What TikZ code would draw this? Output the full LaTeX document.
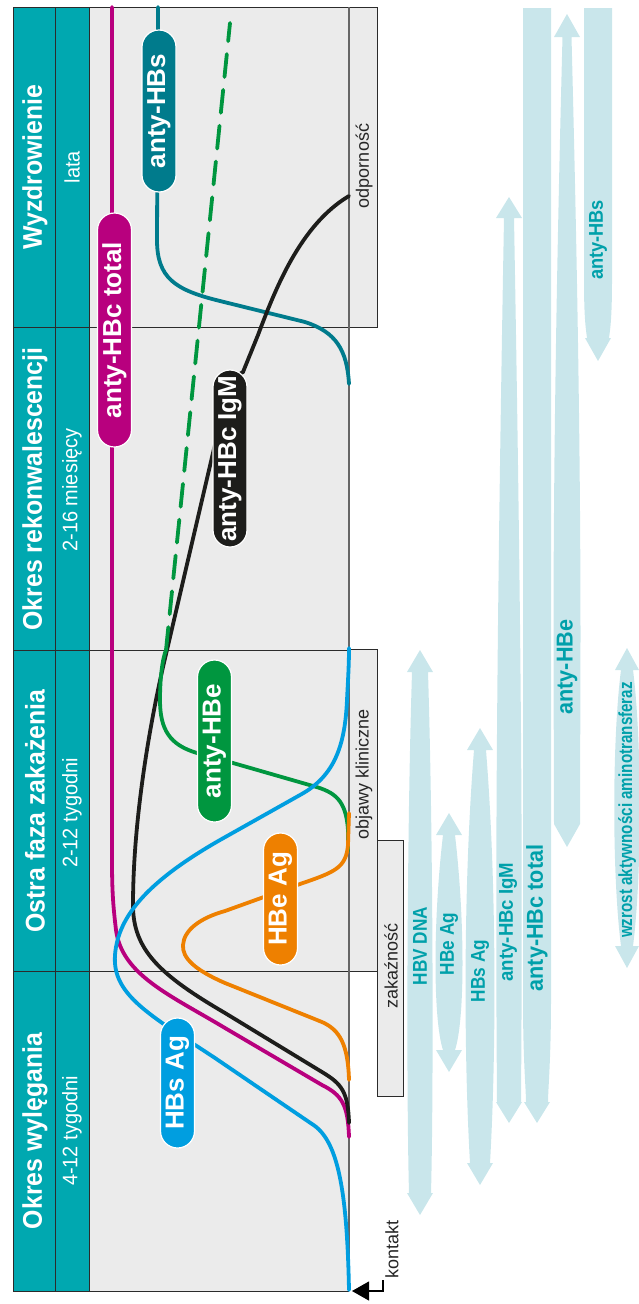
\documentclass[tikz,border=0pt]{standalone}
\usepackage{fontspec}
\usepackage{graphicx}
\setmainfont{Liberation Sans}
\usetikzlibrary{arrows.meta}
\definecolor{headc}{HTML}{00A8B0}
\definecolor{chartc}{HTML}{EBEBEB}
\definecolor{framec}{HTML}{2B2B2B}
\definecolor{bandc}{HTML}{C9E6EB}
\definecolor{labc}{HTML}{00A0AA}
\definecolor{cblue}{HTML}{009EE0}
\definecolor{corange}{HTML}{EE8000}
\definecolor{cgreen}{HTML}{00963F}
\definecolor{cblack}{HTML}{1D1D1B}
\definecolor{cmag}{HTML}{B8007E}
\definecolor{cteal}{HTML}{007B8C}
\begin{document}
\begin{tikzpicture}[x=1pt,y=-1pt,
  frame/.style={draw=framec, line width=0.9pt},
  curve/.style={line width=3.8pt, line cap=round},
  title/.style={rotate=90, text=white, font=\fontsize{27}{30}\selectfont\bfseries, inner sep=0pt},
  sub/.style={rotate=90, text=white, font=\fontsize{21}{24}\selectfont, inner sep=0pt},
  pill/.style={rotate=90, rounded corners=17pt, draw=white, line width=1.2pt, text=white, font=\fontsize{26}{30}\selectfont\bfseries, minimum height=34pt, inner sep=0pt},
  lab/.style={rotate=90, text=labc, font=\fontsize{20}{24}\selectfont\bfseries, inner sep=0pt},
  labbig/.style={lab, font=\fontsize{23}{26}\selectfont\bfseries},
  labsmall/.style={lab, font=\fontsize{19}{22}\selectfont\bfseries},
  note/.style={rotate=90, text=black!85, font=\fontsize{18}{22}\selectfont, inner sep=0pt},
  band/.style={fill=bandc, draw=none}
]
\useasboundingbox (0,0) rectangle (638,1304);
% header and chart backgrounds
\fill[headc] (13,7) rectangle (89,1291);
\fill[chartc] (89,7) rectangle (349,1291);
\fill[chartc] (349,7) rectangle (377,327);
\fill[chartc] (349,649) rectangle (377,971);
\fill[chartc] (377,840) rectangle (403,1096);
\draw[frame] (13,7) rectangle (89,1291);
\draw[frame] (55,7) -- (55,1291);
\draw[frame] (89,7) -- (377,7) -- (377,327) -- (89,327);
\draw[frame] (13,327) -- (89,327);
\draw[frame] (13,650) -- (349,650);
\draw[frame] (349,649) -- (377,649) -- (377,971) -- (13,971);
\draw[frame] (377,840) -- (403,840) -- (403,1096) -- (377,1096) -- (377,971);
\draw[frame] (89,1291) -- (349,1291);
\draw[draw=black!60, line width=1.5pt] (349,7) -- (349,1291);

% header texts
\node[title] (t1) at (35,167) {\scalebox{0.92}[1]{Wyzdrowienie}};
\node[sub] (s1) at (72,167) {\scalebox{0.95}[1]{lata}};
\node[title] (t2) at (35,489) {\scalebox{0.92}[1]{Okres rekonwalescencji}};
\node[sub] (s2) at (72,490) {\scalebox{0.95}[1]{2-16 miesięcy}};
\node[title] (t3) at (35,811) {\scalebox{0.92}[1]{Ostra faza zakażenia}};
\node[sub] (s3) at (72,813) {\scalebox{0.95}[1]{2-12 tygodni}};
\node[title] (t4) at (35,1131) {\scalebox{0.92}[1]{Okres wylęgania}};
\node[sub] (s4) at (72,1131) {\scalebox{0.95}[1]{4-12 tygodni}};

% side notes
\node[note] (odp) at (364,166) {odporność};
\node[note] (obj) at (364,774) {objawy kliniczne};
\node[note] (zak) at (391,966) {zakaźność};
\node[note] (kon) at (392,1249) {kontakt};
\coordinate (kt) at (383,1280);
\coordinate (kp) at (352,1291);
\draw[line width=1.2pt, -{Triangle[length=17pt,width=19pt]}] (kt) -- (383,1291) -- (kp);

% light blue bands
\fill[band] (420,650) -- (433,672) -- (428,672) .. controls (433.5,850) and (433.5,1100) .. (431,1193) -- (433,1193) -- (420,1215) -- (407,1193) -- (409,1193) .. controls (406.5,1100) and (406.5,850) .. (412,672) -- (407,672) -- cycle;
\fill[band] (449,813) -- (462,835) -- (455,835) .. controls (465,920) and (465,1020) .. (455,1050) -- (462,1050) -- (449,1072) -- (436,1050) -- (443,1050) .. controls (433,1020) and (433,920) .. (443,835) -- (436,835) -- cycle;
\fill[band] (480,728) -- (493,750) -- (486,750) .. controls (496.5,880) and (496.5,1050) .. (490,1163) -- (493,1163) -- (480,1185) -- (467,1163) -- (470,1163) .. controls (463.5,1050) and (463.5,880) .. (474,750) -- (467,750) -- cycle;
\fill[band] (509,197) -- (522,218) -- (514,218) .. controls (523.5,750) and (522,950) .. (521,1102) -- (522,1102) -- (509,1123) -- (496,1102) -- (497,1102) .. controls (496,950) and (494.5,750) .. (504,218) -- (496,218) -- cycle;
\fill[band] (523,8) -- (551,8) -- (551,1000) .. controls (551,1060) and (548,1090) .. (548,1102) -- (550,1102) -- (537,1123) -- (524,1102) -- (526,1102) .. controls (526,1090) and (523,1060) .. (523,1000) -- cycle;
\fill[band] (567,14) -- (580,37) -- (571.5,37) .. controls (577,250) and (580.5,450) .. (580.5,640) -- (580,824) -- (567,847) -- (554,824) -- (553.5,640) .. controls (553.5,450) and (557,250) .. (562.5,37) -- (554,37) -- cycle;
\fill[band] (584,8) -- (612,8) -- (612,280) .. controls (612,320) and (610,330) .. (609,338) -- (611,338) -- (598,361) -- (585,338) -- (587,338) .. controls (586,330) and (584,320) .. (584,280) -- cycle;
\fill[band] (627,648) -- (639,670) -- (633,670) .. controls (642,740) and (642,876) .. (633,946) -- (639,946) -- (627,968) -- (615,946) -- (621,946) .. controls (612,876) and (612,740) .. (621,670) -- (615,670) -- cycle;

% band labels
\node[lab] (l1) at (420,946) {\scalebox{0.86}[1]{HBV DNA}};
\node[lab] (l2) at (449,944) {\scalebox{0.86}[1]{HBe Ag}};
\node[lab] (l3) at (480,971) {\scalebox{0.86}[1]{HBs Ag}};
\node[lab] (l4) at (508,922) {\scalebox{0.93}[1]{anty-HBc IgM}};
\node[labbig] (l5) at (537,918) {\scalebox{0.94}[1]{anty-HBc total}};
\node[labbig] (l6) at (567,667) {\scalebox{0.94}[1]{anty-HBe}};
\node[lab] (l7) at (598,240) {\scalebox{0.91}[1]{anty-HBs}};
\node[labsmall] (l8) at (627,810) {\scalebox{0.8}[1]{wzrost aktywności aminotransferaz}};

% curves
\draw[curve, cteal] (349,384) .. controls (347,350) and (336,332) .. (305,322) -- (220,301) .. controls (175,290) and (157,278) .. (157,240) -- (158,7);
\draw[curve, cmag] (349,1137) .. controls (348,1105) and (342,1095) .. (322,1085) -- (225,1028) .. controls (170,995) and (122,975) .. (116,930) .. controls (113,905) and (112,890) .. (112,860) -- (112,7);
\draw[curve, cblack] (349,1123) .. controls (348,1092) and (342,1084) .. (322,1072) -- (225,1013) .. controls (160,975) and (133,950) .. (133,905) .. controls (133,820) and (150,720) .. (167,650) -- (230,380) -- (243,372) -- (258,335) .. controls (275,290) and (300,225) .. (349,196);
\draw[curve, cgreen, dash pattern=on 23pt off 13pt] (166,650) -- (230,23);
\draw[curve, cgreen] (348,851) -- (348,830) .. controls (346,800) and (335,792) .. (313,786) -- (233,763) -- (197,753) .. controls (170,745) and (160,730) .. (160,700) .. controls (160,680) and (162,660) .. (166,650);
\draw[curve, corange] (349,1080) .. controls (348,1045) and (340,1030) .. (322,1022) -- (225,983) .. controls (195,970) and (182,958) .. (183,945) .. controls (184,930) and (200,918) .. (225,911) -- (300,884) .. controls (335,872) and (346,868) .. (348,845) -- (349,813);
\draw[curve, cblue] (349,1290) .. controls (347,1190) and (338,1140) .. (312,1124) -- (215,1058) .. controls (150,1015) and (112,995) .. (115,955) .. controls (118,915) and (150,880) .. (220,840) -- (300,795) .. controls (335,776) and (345,745) .. (347,700) .. controls (348,680) and (349,665) .. (349,648);

% pills
\node[pill, fill=cteal, minimum width=162pt] (p1) at (159,111) {anty-HBs};
\node[pill, fill=cmag, minimum width=234pt] (p2) at (114.5,330) {anty-HBc total};
\node[pill, fill=cblack, minimum width=177pt] (p3) at (230,458.5) {anty-HBc IgM};
\node[pill, fill=cgreen, minimum width=162pt] (p4) at (214.5,741) {anty-HBe};
\node[pill, fill=corange, minimum width=132pt] (p5) at (280.5,899) {HBe Ag};
\node[pill, fill=cblue, minimum width=130pt] (p6) at (177.5,1083) {HBs Ag};
\end{tikzpicture}
\end{document}
